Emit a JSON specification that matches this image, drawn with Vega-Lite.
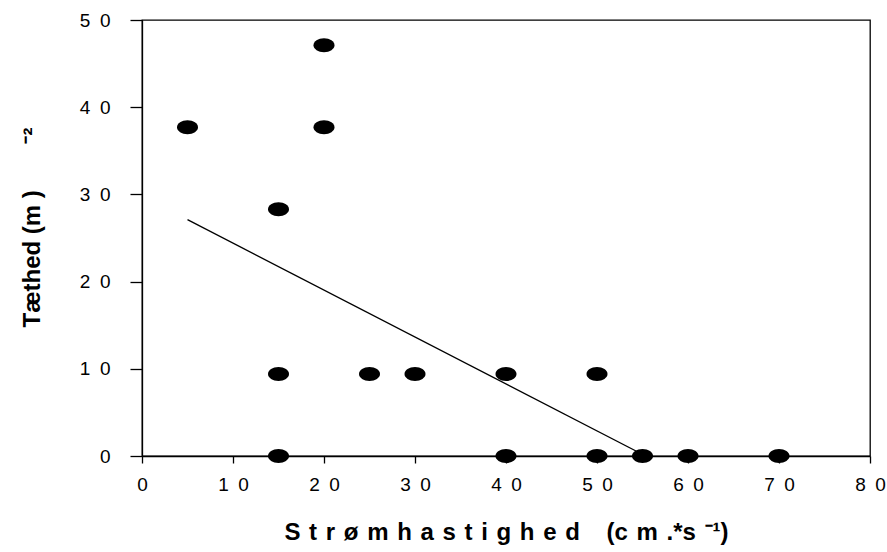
{
  "$schema": "https://vega.github.io/schema/vega-lite/v6.json",
  "autosize": {"type": "none"},
  "width": 728,
  "height": 436,
  "padding": {"left": 142, "top": 20, "right": 17, "bottom": 96},
  "background": "white",
  "config": {
    "view": {"stroke": "black", "strokeWidth": 1.3},
    "font": "Liberation Sans",
    "axis": {
      "grid": false,
      "domainColor": "black",
      "domainWidth": 1.3,
      "tickColor": "black",
      "tickWidth": 1.3,
      "labelColor": "black",
      "labelFont": "Liberation Sans",
      "labelFontSize": 19,
      "titleFont": "Liberation Sans",
      "titleFontWeight": "bold",
      "titleFontSize": 24,
      "titleColor": "black"
    }
  },
  "layer": [
    {
      "data": {"values": [
        {"x": 5, "y": 37.7},
        {"x": 20, "y": 47.1},
        {"x": 20, "y": 37.7},
        {"x": 15, "y": 28.3},
        {"x": 15, "y": 9.4},
        {"x": 25, "y": 9.4},
        {"x": 30, "y": 9.4},
        {"x": 40, "y": 9.4},
        {"x": 50, "y": 9.4},
        {"x": 15, "y": 0},
        {"x": 40, "y": 0},
        {"x": 50, "y": 0},
        {"x": 55, "y": 0},
        {"x": 60, "y": 0},
        {"x": 70, "y": 0}
      ]},
      "mark": {
        "type": "point",
        "filled": true,
        "color": "black",
        "opacity": 1,
        "size": 441,
        "shape": "M -1 0 A 1 0.66 0 1 0 1 0 A 1 0.66 0 1 0 -1 0 Z",
        "clip": false
      },
      "encoding": {
        "x": {
          "field": "x", "type": "quantitative",
          "scale": {"domain": [0, 80], "nice": false, "zero": false},
          "axis": {
            "values": [0, 10, 20, 30, 40, 50, 60, 70, 80],
            "tickSize": 7,
            "labelPadding": 12,
            "labelExpr": "datum.value >= 10 ? substring(datum.label, 0, 1) + '\u2002' + substring(datum.label, 1) : datum.label",
            "labelFlush": false,
            "title": "S\u00a0\u200at\u00a0\u200ar\u00a0\u200aø\u00a0\u200am\u00a0\u200ah\u00a0\u200aa\u00a0\u200as\u00a0\u200at\u00a0\u200ai\u00a0\u200ag\u00a0\u200ah\u00a0\u200ae\u00a0\u200ad\u00a0\u00a0\u00a0\u00a0(c\u00a0\u200am\u00a0\u200a.*s\u00a0\u200a⁻¹)",
            "titleBaseline": "alphabetic",
            "titleY": 83
          }
        },
        "y": {
          "field": "y", "type": "quantitative",
          "scale": {"domain": [0, 50], "nice": false, "zero": false},
          "axis": {
            "values": [0, 10, 20, 30, 40, 50],
            "tickSize": 12,
            "labelPadding": 20,
            "labelExpr": "datum.value >= 10 ? substring(datum.label, 0, 1) + '\u2002' + substring(datum.label, 1) : datum.label",
            "labelFlush": false,
            "title": "Tæthed (m\u00a0)\u00a0\u00a0\u00a0\u00a0\u00a0\u00a0\u00a0⁻²",
            "titleAngle": -90,
            "titleAlign": "left",
            "titleBaseline": "middle",
            "titleX": -110,
            "titleY": 307
          }
        }
      }
    },
    {
      "data": {"values": [
        {"x": 5, "y": 27.1},
        {"x": 54.6, "y": 0.4}
      ]},
      "mark": {"type": "line", "color": "black", "strokeWidth": 1.3},
      "encoding": {
        "x": {"field": "x", "type": "quantitative"},
        "y": {"field": "y", "type": "quantitative"}
      }
    }
  ]
}
